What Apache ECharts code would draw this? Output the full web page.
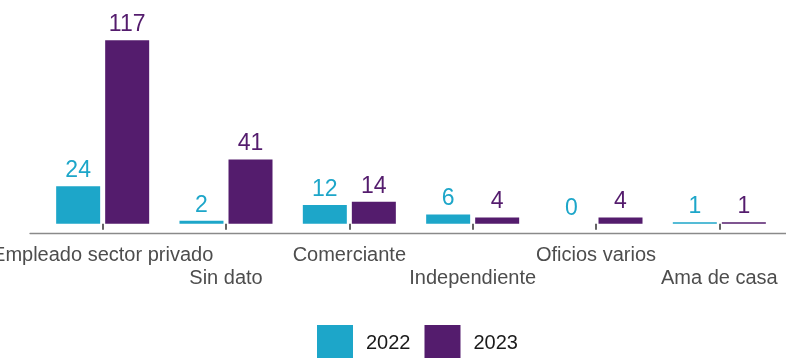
<!DOCTYPE html>
<html>
<head>
<meta charset="utf-8">
<script src="https://cdn.jsdelivr.net/npm/echarts@6/dist/echarts.min.js"></script>
<style>
  html, body { margin: 0; padding: 0; background: #ffffff; }
  #chart { width: 786px; height: 358px; }
</style>
</head>
<body>
<div id="chart"></div>
<script>
// Occupation categories and counts per year
const categories = ['Empleado sector privado', 'Sin dato', 'Comerciante', 'Independiente', 'Oficios varios', 'Ama de casa'];
const years = ['2022', '2023'];
const values2022 = [24, 2, 12, 6, 0, 1];
const values2023 = [117, 41, 14, 4, 4, 1];

const colorA = '#1da6c9';
const colorB = '#541c6d';
const font = "'Liberation Sans', Arial, sans-serif";

function seriesFor(name, values, color) {
  return {
    name: name,
    type: 'bar',
    xAxisIndex: 0,
    yAxisIndex: 0,
    data: values,
    barWidth: 44,
    barGap: '11.4%',
    itemStyle: { color: color },
    label: {
      show: true,
      position: 'top',
      distance: 4,
      color: color,
      fontSize: 23,
      fontFamily: font
    }
  };
}

const chart = echarts.init(document.getElementById('chart'));
chart.setOption({
  animation: false,
  grid: [
    // plotting area for the bars
    { left: 41, right: 5, top: 31, bottom: 125, containLabel: false, outerBoundsMode: 'none' },
    // wider strip that carries the baseline rule
    { left: 30, right: 0, top: 31, bottom: 125, containLabel: false, outerBoundsMode: 'none' }
  ],
  xAxis: [
    {
      type: 'category',
      gridIndex: 0,
      data: categories,
      axisLine: { show: false },
      axisTick: {
        show: true,
        alignWithLabel: true,
        length: 6,
        lineStyle: { color: '#333333', width: 1.5 }
      },
      axisLabel: {
        interval: 0,
        hideOverlap: false,
        margin: 11,
        fontSize: 20,
        lineHeight: 23,
        fontFamily: font,
        color: '#4d4d4d',
        formatter: (v, i) => (i % 2 === 1 ? '\n' + v : v)
      }
    },
    {
      type: 'value',
      gridIndex: 1,
      min: 0,
      max: 1,
      axisLine: { show: true, onZero: false, lineStyle: { color: '#8a8a8a', width: 1.3 } },
      axisTick: { show: false },
      axisLabel: { show: false },
      splitLine: { show: false }
    }
  ],
  yAxis: [
    { type: 'value', gridIndex: 0, min: -5.85, max: 122.85, show: false },
    { type: 'value', gridIndex: 1, min: 0, max: 1, show: false }
  ],
  legend: {
    data: years,
    left: 317,
    top: 325,
    padding: 0,
    itemWidth: 36,
    itemHeight: 36,
    itemGap: 14,
    icon: 'rect',
    textStyle: { fontSize: 20, fontFamily: font, color: '#1a1a1a', padding: [0, 0, 0, 8] }
  },
  series: [
    seriesFor(years[0], values2022, colorA),
    seriesFor(years[1], values2023, colorB)
  ]
});
</script>
</body>
</html>
